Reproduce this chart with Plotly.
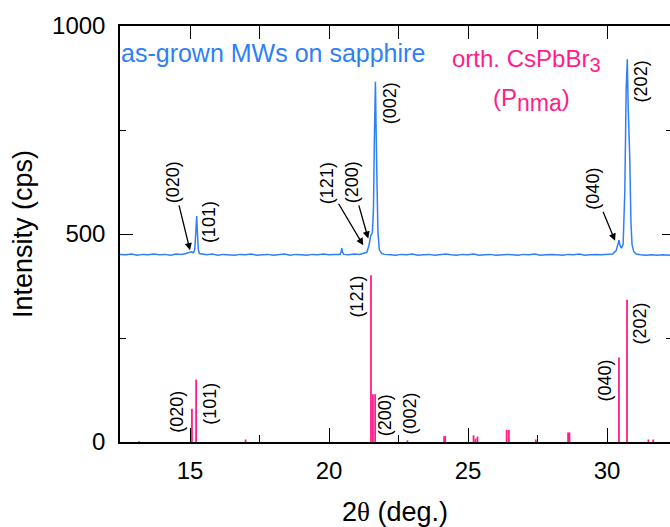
import plotly.graph_objects as go

# ---- measured XRD pattern (as-grown MWs on sapphire) ----
meas_x = [12.48, 12.7, 12.9, 13.1, 13.3, 13.5, 13.7, 13.9, 14.1, 14.3, 14.5, 14.7, 14.85, 14.95, 15.05, 15.12,
          15.17, 15.21, 15.24, 15.27, 15.30, 15.34, 15.45, 15.6, 15.8, 16.0, 16.2, 16.4, 16.6, 16.8, 17.0,
          17.2, 17.4, 17.6, 17.8, 18.0, 18.2, 18.4, 18.6, 18.8, 19.0, 19.2, 19.4, 19.6, 19.8, 20.0, 20.2,
          20.40, 20.44, 20.46, 20.49, 20.53, 20.7, 20.9, 21.1, 21.25, 21.36, 21.44, 21.50, 21.56, 21.60,
          21.63, 21.67, 21.69, 21.71, 21.73, 21.76, 21.81, 21.90, 22.0, 22.2, 22.4, 22.6, 22.8, 23.0, 23.2,
          23.4, 23.6, 23.8, 24.0, 24.2, 24.4, 24.6, 24.8, 25.0, 25.2, 25.4, 25.6, 25.8, 26.0, 26.2, 26.4,
          26.6, 26.8, 27.0, 27.2, 27.4, 27.6, 27.8, 28.0, 28.2, 28.4, 28.6, 28.8, 29.0, 29.2, 29.4, 29.6,
          29.8, 30.0, 30.2, 30.33, 30.40, 30.43, 30.47, 30.52, 30.58, 30.64, 30.69, 30.73, 30.76, 30.79,
          30.82, 30.86, 30.90, 30.96, 31.05, 31.2, 31.4, 31.6, 31.8, 32.0, 32.27]
meas_y = [451, 450, 452, 449, 451, 450, 452, 450, 451, 449, 452, 451, 453, 455, 457, 455,
          462, 505, 543, 500, 462, 453, 451, 450, 452, 449, 451, 450, 449, 451, 450,
          452, 449, 450, 451, 449, 450, 452, 449, 451, 450, 449, 451, 450, 452, 450, 451,
          451, 458, 466, 456, 451, 450, 452, 451, 453, 456, 473, 496, 503, 560,
          720, 866, 770, 718, 610, 505, 462, 453, 451, 450, 449, 451, 450, 452, 449,
          450, 451, 449, 450, 452, 450, 449, 451, 450, 452, 449, 450, 451, 449, 450, 451,
          450, 449, 451, 450, 452, 449, 450, 451, 450, 449, 451, 450, 452, 449, 450, 451,
          450, 451, 452, 460, 478, 485, 472, 466, 475, 600, 850, 920, 810, 760,
          680, 530, 475, 458, 452, 450, 449, 450, 449, 450, 449]

# ---- reference stick pattern (orth. CsPbBr3, Pnma) ----
ref_pos = [13.17, 15.07, 15.22, 17.0, 21.51, 21.58, 21.66, 22.82, 24.14, 24.18, 25.20, 25.27, 25.34,
           26.39, 26.47, 27.44, 28.60, 28.65, 30.43, 30.72, 31.49, 31.66]
ref_int = [2, 80, 150, 6, 401, 115, 115, 4, 14, 14, 16, 8, 13,
           29, 29, 6, 23, 23, 203, 342, 6, 6]

# ---- peak labels ----
meas_labels = ["(020)", "(101)", "(121)", "(200)", "(002)", "(040)", "(202)"]
meas_lab_x = [15.0, 15.69, 21.23, 21.41, 22.19, 30.29, 31.21]
meas_lab_y = [461, 529, 473, 489, 814, 484, 866]
meas_arrow = [True, False, True, True, False, True, False]
meas_ax = [-16.7, 0, -36.6, -16, 0, -21.7, 0]
meas_ay = [-68.3, 0, -61.7, -56.6, 0, -52.4, 0]

ref_labels = ["(020)", "(101)", "(121)", "(200)", "(002)", "(040)", "(202)"]
ref_lab_x = [14.52, 15.72, 21.0, 22.01, 22.91, 29.93, 31.19]
ref_lab_y = [72, 92, 349, 64, 68, 148, 285]

BLUE = "#2f7ff5"
PINK = "#ff1c8d"
FONT = "Liberation Sans, Arial, sans-serif"
XR = [12.482, 32.266]
YR = [0, 1000]

stick_x, stick_y = [], []
for p, h in zip(ref_pos, ref_int):
    stick_x += [p, p, None]
    stick_y += [0, h, None]

fig = go.Figure()
fig.add_trace(go.Scatter(x=stick_x, y=stick_y, mode="lines",
                         line=dict(color=PINK, width=1.8), hoverinfo="skip", showlegend=False))
fig.add_trace(go.Scatter(x=meas_x, y=meas_y, mode="lines",
                         line=dict(color=BLUE, width=1.5), showlegend=False))
# dummy traces to activate the mirror axes
fig.add_trace(go.Scatter(x=[None], y=[None], xaxis="x2", yaxis="y", showlegend=False))
fig.add_trace(go.Scatter(x=[None], y=[None], xaxis="x", yaxis="y2", showlegend=False))

ann = []
for t, x, y, a, ax, ay in zip(meas_labels, meas_lab_x, meas_lab_y, meas_arrow, meas_ax, meas_ay):
    d = dict(text=t, x=x, y=y, xref="x", yref="y", textangle=-90,
             font=dict(family=FONT, size=18, color="black"))
    if a:
        d.update(showarrow=True, ax=ax, ay=ay, arrowhead=2, arrowsize=1.1,
                 arrowwidth=1.3, arrowcolor="black", standoff=0, startstandoff=1)
    else:
        d.update(showarrow=False)
    ann.append(d)
for t, x, y in zip(ref_labels, ref_lab_x, ref_lab_y):
    ann.append(dict(text=t, x=x, y=y, xref="x", yref="y", textangle=-90, showarrow=False,
                    font=dict(family=FONT, size=18, color="black")))

ann.append(dict(text="as-grown MWs on sapphire", x=-0.002, y=935, xref="paper", yref="y",
                xanchor="left", yanchor="middle", showarrow=False,
                font=dict(family=FONT, size=25, color=BLUE)))
ann.append(dict(text="orth. CsPbBr<sub><span style='font-size:20px'>3</span></sub>", x=24.35, y=918,
                xref="x", yref="y", xanchor="left", yanchor="middle", showarrow=False,
                font=dict(family=FONT, size=24, color=PINK)))
ann.append(dict(text="(P<sub><span style='font-size:23px'>nma</span></sub>)", x=27.27, y=822,
                xref="x", yref="y", xanchor="center", yanchor="middle", showarrow=False,
                font=dict(family=FONT, size=24, color=PINK)))

fig.update_layout(
    width=670, height=527,
    margin=dict(l=120, r=0, t=26, b=85),
    paper_bgcolor="white", plot_bgcolor="white",
    font=dict(family=FONT, color="black"),
    annotations=ann,
    xaxis=dict(range=XR, showgrid=False, zeroline=False, showline=True, linecolor="black",
               linewidth=1.5, ticks="inside", ticklen=14, tickwidth=1.2, tickcolor="black",
               dtick=5, tick0=0, tickfont=dict(size=24, family=FONT), ticklabelstandoff=6,
               minor=dict(dtick=2.5, tick0=0, ticks="inside", ticklen=7, tickwidth=1.2, tickcolor="black"),
               title=dict(text="2<span style='font-family:Liberation Serif'>θ</span> (deg.)",
                          font=dict(size=27, family=FONT), standoff=20)),
    xaxis2=dict(range=XR, overlaying="x", side="top", showgrid=False, zeroline=False,
                showline=True, linecolor="black", linewidth=1.5, ticks="inside", ticklen=13,
                tickwidth=1.2, tickcolor="black", dtick=2.5, tick0=0, showticklabels=False),
    yaxis=dict(range=YR, showgrid=False, zeroline=False, showline=True, linecolor="black",
               linewidth=1.5, ticks="inside", ticklen=13, tickwidth=1.2, tickcolor="black",
               dtick=500, tick0=0, tickfont=dict(size=24, family=FONT), ticklabelstandoff=8,
               minor=dict(dtick=250, tick0=0, ticks="inside", ticklen=6, tickwidth=1.2, tickcolor="black"),
               title=dict(text="Intensity (cps)", font=dict(size=27, family=FONT), standoff=12)),
    yaxis2=dict(range=YR, overlaying="y", side="right", showgrid=False, zeroline=False,
                showline=False, ticks="inside", ticklen=8, tickwidth=1.2, tickcolor="black",
                dtick=500, tick0=0, showticklabels=False,
                minor=dict(dtick=250, tick0=0, ticks="inside", ticklen=4, tickwidth=1.2, tickcolor="black")),
)

fig.write_html("out.html", config={"displayModeBar": False},
               post_script="document.body.style.margin='0';document.body.style.overflow='hidden';")
